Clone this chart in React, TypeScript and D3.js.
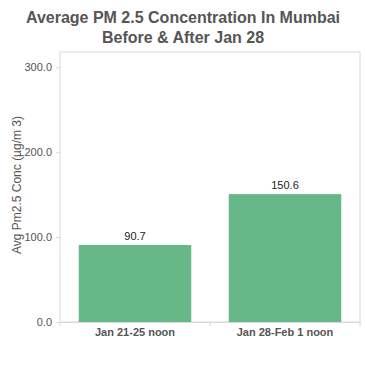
import * as d3 from "d3";
import { useEffect, useRef } from "react";

const categories = ["Jan 21-25 noon", "Jan 28-Feb 1 noon"];
const values = [90.7, 150.6];
const yTicks = [0, 100, 200, 300];

const App = () => {
  const ref = useRef<SVGSVGElement | null>(null);

  useEffect(() => {
    if (!ref.current) return;
    const svg = d3.select(ref.current);
    svg.selectAll("*").remove();

    const width = 365;
    const height = 370;
    const margin = { top: 52, right: 5, bottom: 48, left: 60 };
    const font = "'Liberation Sans', Arial, sans-serif";

    svg.append("rect").attr("width", width).attr("height", height).attr("fill", "#fff");

    const x = d3
      .scaleBand<string>()
      .domain(categories)
      .range([margin.left, width - margin.right])
      .paddingInner(0.25)
      .paddingOuter(0.125);

    const y = d3
      .scaleLinear()
      .domain([0, 318])
      .range([height - margin.bottom, margin.top]);

    // frame
    svg
      .append("rect")
      .attr("x", margin.left)
      .attr("y", margin.top)
      .attr("width", width - margin.left - margin.right)
      .attr("height", y(0) - margin.top)
      .attr("fill", "none")
      .attr("stroke", "#d9d9d9");

    // title
    const title = svg
      .append("text")
      .attr("text-anchor", "middle")
      .attr("font-family", font)
      .attr("font-size", 16)
      .attr("font-weight", "bold")
      .attr("fill", "#555");
    title.append("tspan").attr("x", 183).attr("y", 23).text("Average PM 2.5 Concentration In Mumbai");
    title.append("tspan").attr("x", 183).attr("y", 43).text("Before & After Jan 28");

    // y axis
    svg
      .append("g")
      .attr("transform", `translate(${margin.left},0)`)
      .call(d3.axisLeft(y).tickValues(yTicks).tickSize(4).tickPadding(4).tickFormat(d3.format(".1f")))
      .call((g) => {
        g.select(".domain").remove();
        g.selectAll(".tick line").attr("stroke", "#d9d9d9");
        g.selectAll(".tick text")
          .attr("fill", "#555")
          .attr("font-family", font)
          .attr("font-size", 11);
      });

    svg
      .append("text")
      .attr("transform", `translate(21,185) rotate(-90)`)
      .attr("text-anchor", "middle")
      .attr("font-family", font)
      .attr("font-size", 12)
      .attr("fill", "#555")
      .text("Avg Pm2.5 Conc (µg/m 3)");

    // x axis
    svg
      .append("g")
      .attr("transform", `translate(0,${y(0)})`)
      .call(d3.axisBottom(x).tickSize(0).tickPadding(6))
      .call((g) => {
        g.select(".domain").attr("stroke", "#d9d9d9");
        g.selectAll(".tick text")
          .attr("fill", "#555")
          .attr("font-family", font)
          .attr("font-size", 11)
          .attr("font-weight", "bold");
      });

    const sep = [margin.left, (margin.left + width - margin.right) / 2, width - margin.right];
    svg
      .append("g")
      .selectAll("line")
      .data(sep)
      .join("line")
      .attr("x1", (d) => d)
      .attr("x2", (d) => d)
      .attr("y1", y(0))
      .attr("y2", y(0) + 4)
      .attr("stroke", "#d9d9d9");

    // bars
    svg
      .append("g")
      .selectAll("rect")
      .data(values)
      .join("rect")
      .attr("x", (_, i) => x(categories[i])!)
      .attr("width", x.bandwidth())
      .attr("y", (d) => y(d))
      .attr("height", (d) => y(0) - y(d))
      .attr("fill", "#66b986");

    svg
      .append("g")
      .selectAll("text")
      .data(values)
      .join("text")
      .attr("x", (_, i) => x(categories[i])! + x.bandwidth() / 2)
      .attr("y", (d) => y(d) - 5)
      .attr("text-anchor", "middle")
      .attr("font-family", font)
      .attr("font-size", 11)
      .attr("fill", "#222")
      .text((d) => d.toFixed(1));
  }, []);

  return (
    <svg
      ref={ref}
      width={365}
      height={370}
      style={{ position: "absolute", left: 0, top: 0, display: "block" }}
    />
  );
};

export default App;
